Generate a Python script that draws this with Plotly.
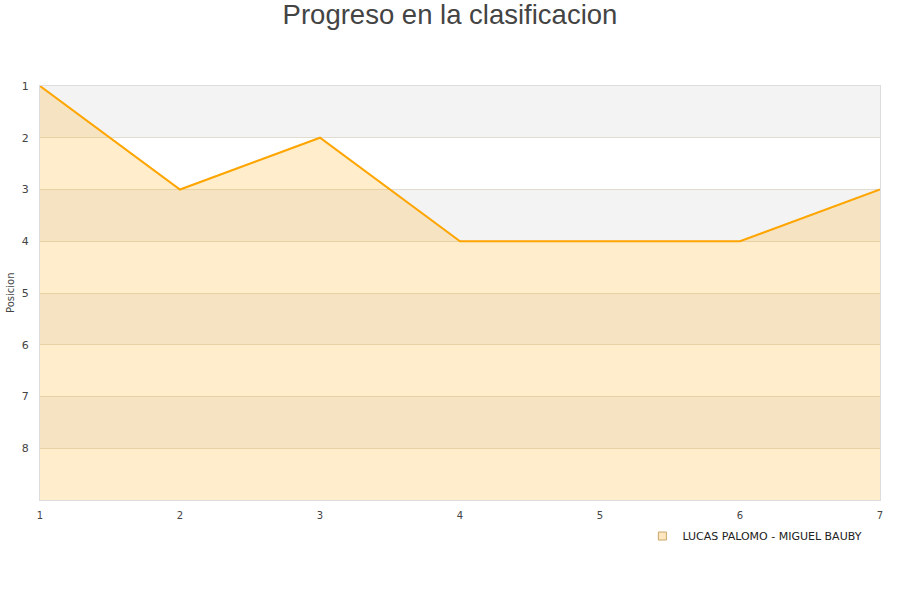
import plotly.graph_objects as go

jornadas = [1, 2, 3, 4, 5, 6, 7]
posiciones = [1, 3, 2, 4, 4, 4, 3]
serie = "LUCAS PALOMO - MIGUEL BAUBY"
y_ticks = [1, 2, 3, 4, 5, 6, 7, 8]
y_min, y_max = 1, 9

fig = go.Figure()

# baseline for fill
fig.add_trace(go.Scatter(x=jornadas, y=[y_max] * len(jornadas), mode="lines",
                         line=dict(width=0, color="rgba(0,0,0,0)"),
                         showlegend=False, hoverinfo="skip"))
fig.add_trace(go.Scatter(x=jornadas, y=posiciones, mode="lines", fill="tonexty",
                         fillcolor="rgba(255,165,0,0.2)",
                         line=dict(color="#FFA500", width=2),
                         showlegend=False, name=serie))
# legend entry
fig.add_trace(go.Scatter(x=[None], y=[None], mode="markers", name=serie,
                         marker=dict(symbol="square", size=8, color="#ffe7c0",
                                     line=dict(color="#c9a66b", width=1))))

shapes = []
for k in range(y_min, y_max, 2):
    shapes.append(dict(type="rect", xref="paper", yref="y", x0=0, x1=1, y0=k, y1=k + 1,
                       fillcolor="#f3f3f3", line=dict(width=0), layer="below"))

fig.update_layout(
    width=900, height=600,
    paper_bgcolor="white", plot_bgcolor="white",
    margin=dict(l=40, r=20, t=86, b=100, autoexpand=False),
    title=dict(text="Progreso en la clasificacion", x=0.5, xanchor="center",
               y=1 - 14 / 600, yanchor="middle",
               font=dict(family="Liberation Sans", size=27.5, color="#444")),
    shapes=shapes,
    showlegend=True,
    legend=dict(orientation="h", x=0.985, xanchor="right", y=-0.087, yanchor="middle",
                font=dict(family="DejaVu Sans", size=11, color="#222"),
                itemwidth=30, bgcolor="rgba(0,0,0,0)"),
    annotations=[dict(text="Posicion", xref="paper", yref="paper", x=-30 / 840, y=0.5,
                      xanchor="center", yanchor="middle", textangle=-90, showarrow=False,
                      font=dict(family="DejaVu Sans", size=10, color="#444"))],
    xaxis=dict(range=[1, 7], tickvals=jornadas, showgrid=False, zeroline=False,
               showline=True, linecolor="#ddd", mirror=True, automargin=False,
               ticks="outside", ticklen=6, tickcolor="rgba(0,0,0,0)",
               tickfont=dict(family="DejaVu Sans", size=10, color="#444")),
    yaxis=dict(range=[y_max, y_min], tickvals=y_ticks, showgrid=True, gridcolor="#e2dccf",
               zeroline=False, showline=True, linecolor="#ddd", mirror=True, automargin=False,
               ticks="outside", ticklen=8, tickcolor="rgba(0,0,0,0)",
               tickfont=dict(family="DejaVu Sans", size=11, color="#444")),
)

fig.write_html("out.html", config={"displayModeBar": False},
               post_script="document.body.style.margin='0';")
